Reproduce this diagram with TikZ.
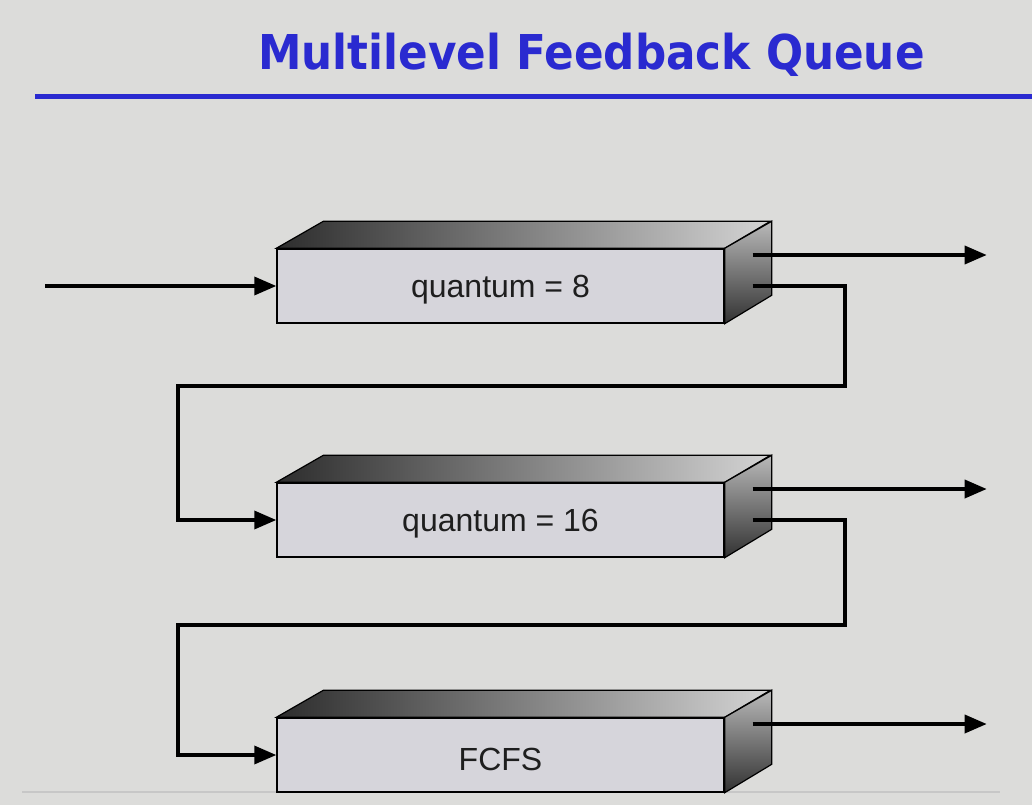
\documentclass[tikz,border=0pt]{standalone}
\usepackage{fontspec}
\setmainfont{Liberation Sans}
\newfontfamily\titlefont{DejaVu Sans}
\usetikzlibrary{arrows.meta,calc}
\definecolor{bg}{RGB}{220,220,218}
\definecolor{titleblue}{RGB}{42,42,208}
\definecolor{frontgray}{RGB}{214,213,219}
\definecolor{topdark}{RGB}{45,45,45}
\definecolor{toplight}{RGB}{212,212,212}
\definecolor{sidelight}{RGB}{185,185,185}
\definecolor{sidedark}{RGB}{50,50,50}
\definecolor{labelgray}{RGB}{30,30,30}
\tikzset{
  qbox/.style={draw=black, line width=1.4pt, fill=frontgray, minimum width=447pt,
    minimum height=74pt, inner sep=0pt, text=labelgray,
    font=\fontsize{32}{36}\selectfont},
  topface/.style={draw=black, line width=1.2pt, left color=topdark, right color=toplight},
  sideface/.style={draw=black, line width=1.2pt, top color=sidelight, bottom color=sidedark},
  arr/.style={draw=black, line width=3.5pt, -{Triangle[length=22pt,width=18pt]}},
}
\begin{document}
\begin{tikzpicture}[x=1pt,y=-1pt]
\fill[bg] (0,0) rectangle (1032,805);
\useasboundingbox (0,0) rectangle (1032,805);
% title
\node[anchor=base, text=titleblue, inner sep=0pt, font=\titlefont\bfseries\fontsize{48}{56}\selectfont, xscale=0.91] (title) at (591.5,70) {Multilevel Feedback Queue};
\draw[titleblue, line width=5pt] (35,97) -- (1032,97);
% faint bottom line
\draw[black!22, line width=1.5pt] (22,792) -- (1000,792);
% boxes
\foreach \n/\y/\t in {q1/286/{quantum = 8}, q2/520/{quantum = 16}, q3/755/{FCFS}}{
  \node[qbox] (\n) at (500.5,\y) {\raisebox{-4pt}[\height][\depth]{\t}};
  \shadedraw[topface] (\n.north west) -- ++(47,-27) -- ++(447,0) -- (\n.north east) -- cycle;
  \shadedraw[sideface] (\n.north east) -- ++(47,-27) -- ++(0,74) -- (\n.south east) -- cycle;
  \coordinate (\n o) at ($(\n.east)+(28,-31)$);
  \coordinate (\n e) at ($(\n.east)+(262,-31)$);
  \coordinate (\n f) at ($(\n.east)+(28,0)$);
}
\coordinate (in) at (45,286);
\coordinate (c1) at (845,386);
\coordinate (c2) at (178,386);
\coordinate (c3) at (845,625);
\coordinate (c4) at (178,625);
% connectors
\draw[arr] (in) -- (q1.west);
\draw[arr] (q1o) -- (q1e);
\draw[arr] (q2o) -- (q2e);
\draw[arr] (q3o) -- (q3e);
\draw[arr] (q1f) -| (c1) -- (c2) |- (q2.west);
\draw[arr] (q2f) -| (c3) -- (c4) |- (q3.west);
\end{tikzpicture}
\end{document}
